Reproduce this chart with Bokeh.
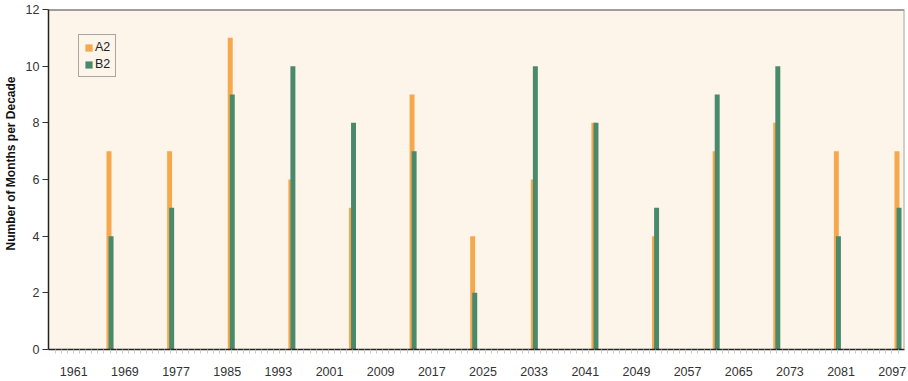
import numpy as np
from bokeh.plotting import figure
from bokeh.models import (ColumnDataSource, FixedTicker, Range1d, Legend, LegendItem,
                          Span, Title)
from bokeh.transform import dodge
from bokeh.embed import file_html
from bokeh.resources import INLINE

# ---- data ----
decade_end = [1970, 1980, 1990, 2000, 2010, 2020, 2030, 2040, 2050, 2060, 2070, 2080, 2090, 2100]
a2 = [7, 7, 11, 6, 5, 9, 4, 6, 8, 4, 7, 8, 7, 7]
b2 = [4, 5, 9, 10, 8, 7, 2, 10, 8, 5, 9, 10, 4, 5]
tick_labels = ["1961", "1969", "1977", "1985", "1993", "2001", "2009", "2017", "2025",
               "2033", "2041", "2049", "2057", "2065", "2073", "2081", "2097"]
y_ticks = [0, 2, 4, 6, 8, 10, 12]

src = ColumnDataSource(dict(x=decade_end, a2=a2, b2=b2))

BG = "#fdf4ea"
ORANGE = "#f6a84c"
GREEN = "#4a8a6c"
FONT = "Liberation Sans"

x0, x1 = 1959.85, 2101.07
p = figure(width=908, height=381, output_backend="svg", toolbar_location=None,
           x_range=Range1d(x0, x1), y_range=Range1d(0, 12),
           min_border_left=48, min_border_right=4, min_border_top=9, min_border_bottom=32)
p.background_fill_color = BG
p.border_fill_color = "white"
p.outline_line_color = None
p.grid.visible = False

r_a = p.vbar(x=dodge("x", -0.17, range=p.x_range), top="a2", width=0.82, bottom=0,
             source=src, fill_color=ORANGE, line_color=None)
r_b = p.vbar(x=dodge("x", 0.17, range=p.x_range), top="b2", width=0.82, bottom=0,
             source=src, fill_color=GREEN, line_color=None)

# x axis: evenly spaced labels, minor ticks every year
tick_pos = list(np.linspace(1964.02, 2099.04, len(tick_labels)))
p.xaxis.ticker = FixedTicker(ticks=tick_pos, minor_ticks=list(range(1961, 2101)))
p.xaxis.major_label_overrides = {tp: lab for tp, lab in zip(tick_pos, tick_labels)}
p.xaxis.major_tick_line_color = None
p.xaxis.major_tick_out = 0
p.xaxis.major_tick_in = 0
p.xaxis.minor_tick_line_color = "#cfcbc7"
p.xaxis.minor_tick_out = 4
p.xaxis.minor_tick_in = 0
p.xaxis.major_label_standoff = 13
p.xaxis.axis_line_color = "#222222"
p.xaxis.axis_line_width = 1.5
p.xaxis.major_label_text_font = FONT
p.xaxis.major_label_text_font_size = "12.5px"
p.xaxis.major_label_text_color = "#333333"

# y axis
p.yaxis.ticker = FixedTicker(ticks=y_ticks)
p.yaxis.minor_tick_line_color = None
p.yaxis.major_tick_out = 6
p.yaxis.major_tick_in = 0
p.yaxis.major_tick_line_color = "#333333"
p.yaxis.major_label_standoff = 3
p.yaxis.axis_line_color = "#222222"
p.yaxis.axis_line_width = 1.5
p.yaxis.major_label_text_font = FONT
p.yaxis.major_label_text_font_size = "12.5px"
p.yaxis.major_label_text_color = "#333333"

ttl = Title(text="Number of Months per Decade", align="left", offset=99,
            vertical_align="top", standoff=6,
            text_font=FONT, text_font_size="12px", text_font_style="bold",
            text_color="#111111")
p.add_layout(ttl, "left")

# frame borders top / right
p.add_layout(Span(location=12, dimension="width", line_color="#444444", line_width=2))
p.add_layout(Span(location=x1, dimension="height", line_color="#aaa6a2", line_width=2))

legend = Legend(items=[LegendItem(label="A2", renderers=[r_a]),
                       LegendItem(label="B2", renderers=[r_b])],
                location=(30, 272), orientation="vertical",
                glyph_width=9, glyph_height=9, label_height=9, label_width=10,
                spacing=3, padding=5, margin=0, label_standoff=2,
                label_text_font=FONT, label_text_font_size="12.5px",
                label_text_color="#222222",
                background_fill_color=BG, background_fill_alpha=1,
                border_line_color="#555555", border_line_width=1.5)
p.add_layout(legend)

open("out.html", "w").write(file_html(p, INLINE))
